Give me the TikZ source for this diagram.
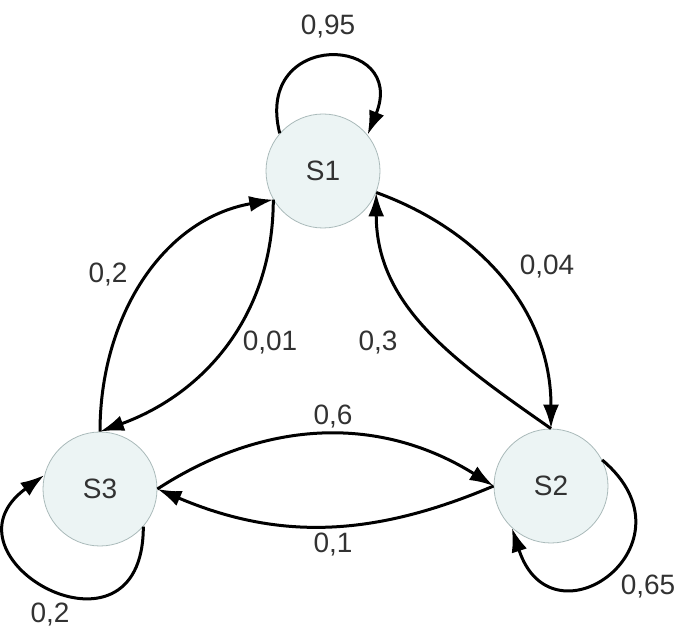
\documentclass[tikz,border=0pt]{standalone}
\usepackage{fontspec}
\setmainfont{Liberation Sans}
\usetikzlibrary{arrows.meta}
\definecolor{cellfill}{RGB}{236,244,244}
\definecolor{celldraw}{RGB}{170,186,186}
\definecolor{txt}{RGB}{50,50,50}
\begin{document}
\begin{tikzpicture}[
        x=0.5pt, y=0.5pt,
        font=\fontsize{14}{16}\selectfont,
        state/.style={circle, fill=cellfill, draw=celldraw, line width=0.4pt, minimum size=57pt, inner sep=0pt, text=txt}, % Стиль состояний
        arc/.style={draw, line width=1.5pt, -{Latex[length=12pt, width=8pt]}}, % Переходы
        prob/.style={text=txt, inner sep=1pt}, % Вероятности
    ]
    \useasboundingbox (0,0) rectangle (679,626);

    \node[state] (S1) at (323,455) {S1};
    \node[state] (S2) at (551,140) {S2};
    \node[state] (S3) at (100,137) {S3};

    % петли
    \draw[arc] (S1.139) .. controls +(104:108) and +(68:108) .. (S1.39);
    \draw[arc] (S3.319) .. controls +(-90:150) and +(216:140) .. (S3.166);
    \draw[arc] (S2.27) .. controls +(-40:130) and +(288:130) .. (S2.227);

    % переходы между состояниями
    \draw[arc] (S1.338) to[out=-20, in=90] (S2.north);
    \draw[arc] (S2.north) to[out=145, in=-90] (S1.338);
    \draw[arc] (S1.210) to[out=-90, in=20] (S3.north);
    \draw[arc] (S3.north) to[out=90, in=190] (S1.210);
    \draw[arc] (S3.east) to[out=33, in=148] (S2.west);
    \draw[arc] (S2.west) to[out=203, in=-23] (S3.east);

    \node[prob] (p11) at (328,599) {0,95};
    \node[prob] (p12) at (547,359) {0,04};
    \node[prob] (p21) at (378,283) {0,3};
    \node[prob] (p13) at (270,283) {0,01};
    \node[prob] (p31) at (108,351) {0,2};
    \node[prob] (p32) at (333,209) {0,6};
    \node[prob] (p23) at (333,81) {0,1};
    \node[prob] (p33) at (50,11) {0,2};
    \node[prob] (p22) at (648,39) {0,65};
\end{tikzpicture}
\end{document}
